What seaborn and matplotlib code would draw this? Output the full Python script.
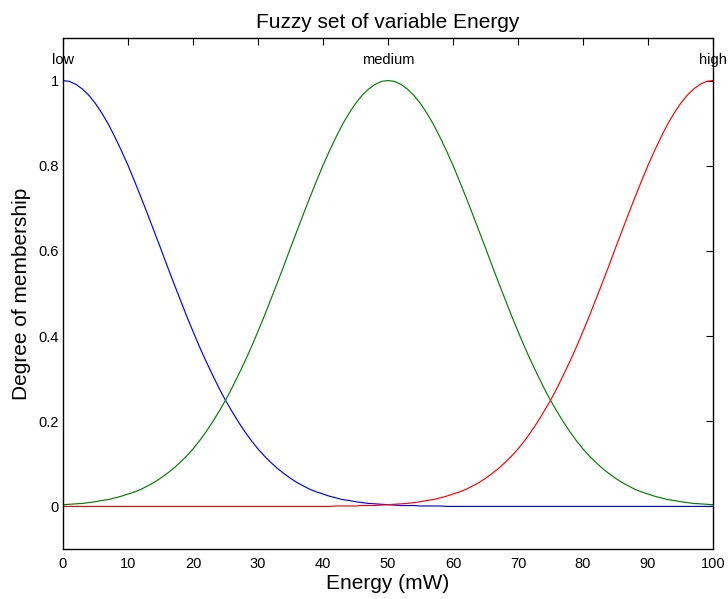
import numpy as np
import pandas as pd
import matplotlib
matplotlib.use("Agg")
import matplotlib.pyplot as plt
import seaborn as sns

# Energy (mW) positions at which the membership values were read, 0..100 step 1
energy = list(range(0, 101))

low = [1.000, 0.998, 0.991, 0.980, 0.965, 0.946, 0.923, 0.897, 0.867, 0.835,
       0.801, 0.764, 0.726, 0.687, 0.647, 0.607, 0.566, 0.526, 0.487, 0.448,
       0.411, 0.375, 0.341, 0.309, 0.278, 0.249, 0.223, 0.198, 0.175, 0.154,
       0.135, 0.118, 0.103, 0.089, 0.077, 0.066, 0.056, 0.048, 0.040, 0.034,
       0.029, 0.024, 0.020, 0.016, 0.014, 0.011, 0.009, 0.007, 0.006, 0.005,
       0.004, 0.003, 0.002, 0.002, 0.002, 0.001, 0.001, 0.001, 0.001, 0.000,
       0.000, 0.000, 0.000, 0.000, 0.000, 0.000, 0.000, 0.000, 0.000, 0.000,
       0.000, 0.000, 0.000, 0.000, 0.000, 0.000, 0.000, 0.000, 0.000, 0.000,
       0.000, 0.000, 0.000, 0.000, 0.000, 0.000, 0.000, 0.000, 0.000, 0.000,
       0.000, 0.000, 0.000, 0.000, 0.000, 0.000, 0.000, 0.000, 0.000, 0.000,
       0.000]
medium = [0.004, 0.005, 0.006, 0.007, 0.009, 0.011, 0.014, 0.016, 0.020, 0.024,
          0.029, 0.034, 0.040, 0.048, 0.056, 0.066, 0.077, 0.089, 0.103, 0.118,
          0.135, 0.154, 0.175, 0.198, 0.223, 0.249, 0.278, 0.309, 0.341, 0.375,
          0.411, 0.448, 0.487, 0.526, 0.566, 0.607, 0.647, 0.687, 0.726, 0.764,
          0.801, 0.835, 0.867, 0.897, 0.923, 0.946, 0.965, 0.980, 0.991, 0.998,
          1.000,
          0.998, 0.991, 0.980, 0.965, 0.946, 0.923, 0.897, 0.867, 0.835, 0.801,
          0.764, 0.726, 0.687, 0.647, 0.607, 0.566, 0.526, 0.487, 0.448, 0.411,
          0.375, 0.341, 0.309, 0.278, 0.249, 0.223, 0.198, 0.175, 0.154, 0.135,
          0.118, 0.103, 0.089, 0.077, 0.066, 0.056, 0.048, 0.040, 0.034, 0.029,
          0.024, 0.020, 0.016, 0.014, 0.011, 0.009, 0.007, 0.006, 0.005, 0.004]
high = [0.000, 0.000, 0.000, 0.000, 0.000, 0.000, 0.000, 0.000, 0.000, 0.000,
        0.000, 0.000, 0.000, 0.000, 0.000, 0.000, 0.000, 0.000, 0.000, 0.000,
        0.000, 0.000, 0.000, 0.000, 0.000, 0.000, 0.000, 0.000, 0.000, 0.000,
        0.000, 0.000, 0.000, 0.000, 0.000, 0.000, 0.000, 0.000, 0.000, 0.000,
        0.000,
        0.000, 0.001, 0.001, 0.001, 0.001, 0.002, 0.002, 0.002, 0.003, 0.004,
        0.005, 0.006, 0.007, 0.009, 0.011, 0.014, 0.016, 0.020, 0.024, 0.029,
        0.034, 0.040, 0.048, 0.056, 0.066, 0.077, 0.089, 0.103, 0.118, 0.135,
        0.154, 0.175, 0.198, 0.223, 0.249, 0.278, 0.309, 0.341, 0.375, 0.411,
        0.448, 0.487, 0.526, 0.566, 0.607, 0.647, 0.687, 0.726, 0.764, 0.801,
        0.835, 0.867, 0.897, 0.923, 0.946, 0.965, 0.980, 0.991, 0.998, 1.000]

set_names = ["low", "medium", "high"]
set_centers = [0, 50, 100]
set_colors = ["#0000ff", "#008000", "#ff0000"]

x_ticks = [0, 10, 20, 30, 40, 50, 60, 70, 80, 90, 100]
y_ticks = [0, 0.2, 0.4, 0.6, 0.8, 1]
y_tick_labels = ["0", "0.2", "0.4", "0.6", "0.8", "1"]

df = pd.DataFrame({
    "Energy": energy * 3,
    "value": low + medium + high,
    "set": ["low"] * len(energy) + ["medium"] * len(energy) + ["high"] * len(energy),
})

sns.set_style("white")
plt.rcParams["font.family"] = ["Liberation Sans", "DejaVu Sans"]
plt.rcParams["text.color"] = "black"
plt.rcParams["axes.labelcolor"] = "black"
plt.rcParams["xtick.color"] = "black"
plt.rcParams["ytick.color"] = "black"

fig = plt.figure(figsize=(7.28, 5.99), dpi=100)
ax = fig.add_axes([0.0865, 0.0835, 0.8929, 0.8531])

sns.lineplot(data=df, x="Energy", y="value", hue="set", hue_order=set_names,
             palette=set_colors, linewidth=0.85, legend=False, ax=ax)

for name, c in zip(set_names, set_centers):
    ax.text(c, 1.049, name, ha="center", va="center", fontsize=10.5, color="black")

ax.set_xlim(0, 100)
ax.set_ylim(-0.1, 1.1)
ax.set_xticks(x_ticks)
ax.set_xticklabels([str(t) for t in x_ticks])
ax.set_yticks(y_ticks)
ax.set_yticklabels(y_tick_labels)
ax.tick_params(direction="in", top=True, right=True, length=5, width=0.8,
               labelsize=10.5, colors="black")
ax.tick_params(axis="x", pad=6)
ax.tick_params(axis="y", pad=3)
for s in ax.spines.values():
    s.set_color("black")
    s.set_linewidth(1.0)

ax.set_title("Fuzzy set of variable Energy", fontsize=15, pad=7, color="black")
ax.set_xlabel("Energy (mW)", fontsize=15, labelpad=2, color="black")
ax.set_ylabel("Degree of membership", fontsize=15, labelpad=5, color="black")

fig.savefig("out.png", dpi=100)
